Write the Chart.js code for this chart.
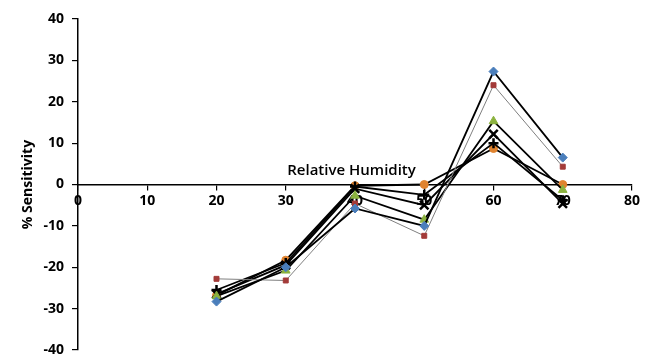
<!DOCTYPE html>
<html>
<head>
<meta charset="utf-8">
<script src="https://cdn.jsdelivr.net/npm/chart.js@4.4.0/dist/chart.umd.min.js"></script>
<style>
html,body{margin:0;padding:0;background:#fff;}
#wrap{width:646px;height:356px;position:relative;}
</style>
</head>
<body>
<div id="wrap"><canvas id="c" width="646" height="356"></canvas></div>
<script>
const humidity = [20, 30, 40, 50, 60, 70];
const seriesDiamond = [-28.3, -20.0, -5.8, -10.0, 27.3, 6.5];
const seriesSquare = [-22.8, -23.2, -4.6, -12.4, 24.0, 4.3];
const seriesTriangle = [-27.0, -20.8, -2.7, -8.5, 15.3, -1.3];
const seriesX = [-26.5, -19.5, -1.0, -5.0, 12.2, -4.6];
const seriesPlus = [-25.5, -19.0, -0.5, -2.5, 10.0, -3.8];
const seriesCircle = [-26.8, -18.3, -0.3, 0.0, 8.7, 0.0];
const xTitle = "Relative Humidity";
const yTitle = "% Sensitivity";

function pts(vals){ return humidity.map((h,i)=>({x:h, y:vals[i]})); }

const FONT = "'Open Sans', 'Noto Sans', sans-serif";

const xTitlePlugin = {
  id: 'xTitleInside',
  afterDraw(chart){
    const {ctx, scales} = chart;
    const px = scales.x.getPixelForValue(39.5);
    const py = scales.y.getPixelForValue(0) - 6;
    ctx.save();
    ctx.font = "600 15px " + FONT;
    ctx.fillStyle = "#000";
    ctx.textAlign = "center";
    ctx.textBaseline = "bottom";
    ctx.fillText(xTitle, px, py);
    ctx.restore();
  }
};

function ds(label, vals, style, color, lineColor, lineWidth, radius){
  return {
    label, data: pts(vals), showLine: true,
    borderColor: lineColor, borderWidth: lineWidth,
    pointStyle: style, pointRadius: radius,
    pointBackgroundColor: color, pointBorderColor: color,
    pointBorderWidth: (style==='crossRot'||style==='cross') ? 2.5 : 1,
    tension: 0, clip: false
  };
}

new Chart(document.getElementById('c'), {
  type: 'scatter',
  data: {
    datasets: [
      ds('S1', seriesDiamond, 'rectRot', '#4A7EBB', '#000', 1.8, 4.5),
      ds('S2', seriesSquare, 'rect', '#A33B39', '#7f7f7f', 1, 3.5),
      ds('S3', seriesTriangle, 'triangle', '#8BB23F', '#000', 1.8, 5),
      ds('S4', seriesX, 'crossRot', '#000', '#000', 1.8, 6),
      ds('S5', seriesPlus, 'cross', '#000', '#000', 1.8, 5),
      ds('S6', seriesCircle, 'circle', '#E0832F', '#000', 1.8, 4)
    ]
  },
  options: {
    responsive: false,
    animation: false,
    layout: { autoPadding: false, padding: { left: 0, right: 14, top: 19, bottom: 6 } },
    plugins: { legend: { display: false }, tooltip: { enabled: false } },
    scales: {
      x: {
        type: 'linear',
        position: { y: 0 },
        min: 0, max: 80,
        afterFit(s){ s.height = 0; s.paddingLeft = 0; s.paddingRight = 0; },
        ticks: { stepSize: 10, color: '#000', font: { family: FONT, size: 14, weight: 'bold' }, padding: 3 },
        grid: { drawOnChartArea: false, drawTicks: true, tickLength: 5, color: '#000', lineWidth: 1.2 },
        border: { display: true, color: '#000', width: 1.5 }
      },
      y: {
        type: 'linear',
        position: 'left',
        min: -40, max: 40,
        afterFit(s){ s.width = 78; s.paddingTop = 0; s.paddingBottom = 0; },
        ticks: { stepSize: 10, color: '#000', font: { family: FONT, size: 14, weight: 'bold' }, padding: 8 },
        grid: { drawOnChartArea: false, drawTicks: true, tickLength: 6, color: '#000', lineWidth: 1.2 },
        border: { display: true, color: '#000', width: 1.5 },
        title: { display: true, text: yTitle, color: '#000', font: { family: FONT, size: 14, weight: 'bold' }, padding: { top: 20, bottom: 0 } }
      }
    }
  },
  plugins: [xTitlePlugin]
});
</script>
</body>
</html>
